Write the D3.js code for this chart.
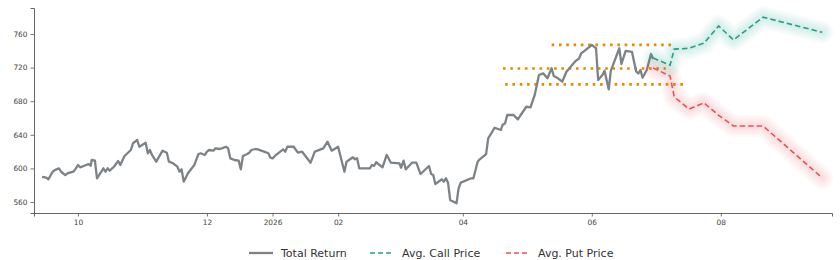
<!DOCTYPE html>
<html><head><meta charset="utf-8">
<script src="https://cdn.jsdelivr.net/npm/d3@7"></script>
<style>
body{margin:0;background:#fff;}
svg{display:block;font-family:"DejaVu Sans",sans-serif;}
</style></head><body>
<svg id="c" width="840" height="260"></svg>
<script>
const priceDates = ["2025-09-14","2025-09-16","2025-09-17","2025-09-19","2025-09-20","2025-09-22","2025-09-23","2025-09-25","2025-09-26","2025-09-29","2025-09-30","2025-10-01","2025-10-02","2025-10-04","2025-10-06","2025-10-07","2025-10-07T12:00","2025-10-09","2025-10-10","2025-10-11","2025-10-13","2025-10-14","2025-10-15","2025-10-16","2025-10-18","2025-10-20","2025-10-21","2025-10-23","2025-10-26","2025-10-27","2025-10-29","2025-10-30","2025-11-02","2025-11-03","2025-11-04","2025-11-05","2025-11-07","2025-11-10","2025-11-12","2025-11-13","2025-11-15","2025-11-17","2025-11-18","2025-11-19","2025-11-20","2025-11-22","2025-11-25","2025-11-26","2025-11-27","2025-11-28","2025-11-30","2025-12-01","2025-12-02","2025-12-04","2025-12-05","2025-12-07","2025-12-08","2025-12-10","2025-12-11","2025-12-12","2025-12-14","2025-12-16","2025-12-17","2025-12-18","2025-12-20","2025-12-21","2025-12-22","2025-12-24","2025-12-25","2025-12-28","2025-12-30","2025-12-31","2026-01-01","2026-01-03","2026-01-06","2026-01-07","2026-01-08","2026-01-11","2026-01-13","2026-01-15","2026-01-19","2026-01-21","2026-01-25","2026-01-27","2026-01-29","2026-02-01","2026-02-04","2026-02-05","2026-02-08","2026-02-09","2026-02-10","2026-02-11","2026-02-16","2026-02-17","2026-02-18","2026-02-19","2026-02-22","2026-02-24","2026-02-26","2026-03-02","2026-03-02T18:00","2026-03-04","2026-03-05","2026-03-08","2026-03-10","2026-03-12","2026-03-16","2026-03-17","2026-03-18","2026-03-19","2026-03-22","2026-03-23","2026-03-24","2026-03-25","2026-03-26","2026-03-29","2026-03-30","2026-03-31","2026-04-05","2026-04-06","2026-04-08","2026-04-09","2026-04-12","2026-04-13","2026-04-14","2026-04-16","2026-04-19","2026-04-19T18:00","2026-04-21","2026-04-22","2026-04-25","2026-04-27","2026-05-01","2026-05-03","2026-05-05","2026-05-06","2026-05-07","2026-05-09","2026-05-11","2026-05-13","2026-05-14","2026-05-16","2026-05-18","2026-05-20","2026-05-22","2026-05-24","2026-05-26","2026-05-27","2026-05-30","2026-06-01","2026-06-02","2026-06-03","2026-06-04","2026-06-06","2026-06-07","2026-06-09","2026-06-10","2026-06-11","2026-06-14","2026-06-15","2026-06-17","2026-06-20","2026-06-22","2026-06-23","2026-06-24","2026-06-25","2026-06-27","2026-06-29","2026-06-30"];
const priceValues = [590,589,587,596,598,600,596,592,594,596.5,600,604,601.3,603.2,605.2,603.2,610,609.2,588.2,592.1,600.1,596,600.1,597.3,602,608.8,604,614.8,621.9,629.9,633.8,625.8,630.6,618,621.9,616,608,621.1,618.7,608,606.1,602,596.1,598.9,584.2,594.2,604,610.8,617.1,618,616,619.9,621.9,621.1,623.9,623.1,623.9,625.8,623.9,612,610,609.2,598.9,614.8,617.1,618.7,621.9,623.1,622.7,619.9,618,612.7,612,616.8,622.7,619.9,625.8,625.8,618.7,619.9,606.8,619.9,623.9,631.8,621.1,625.8,596.1,608,613.2,610.8,612,600.1,600.1,604,602.9,607.3,601.3,616,606.8,606.1,600.8,609.2,598.9,606.8,606.8,593.3,602.9,593.3,592.1,581.4,587,584.2,588.2,583,562.4,558.4,576.3,583,588.2,588.2,608,610.8,617.1,635.8,639.8,648.4,645.7,651.7,653.7,663.6,663.6,658.4,673.4,672.7,687.4,699.3,711.2,713.2,707.3,719.2,710,707.3,703.2,715.1,721.1,727,731.1,737,743,746.9,744.9,743,705.2,711.2,716.3,694.2,716.3,723,743,724.3,739.8,738.6,715.1,713,717.1,707.9,717.1,736.2,730.2];

const forecastDates = ["2026-06-30","2026-07-08","2026-07-10","2026-07-17","2026-07-24","2026-07-31","2026-08-07","2026-08-21","2026-09-18"];
const callValues = [731.4,723,742,743,749,769.5,753,780,762];
const putValues  = [719.5,710,685,670.7,678,663.2,650.5,650.5,588.6];

const levelValues = [747,719,700];
const levelStarts = ["2026-05-13","2026-04-20","2026-04-21"];
const levelEnds   = ["2026-07-09","2026-07-06","2026-07-15"];

const xTickDates = ["2025-10-01","2025-12-01","2026-01-01","2026-02-01","2026-04-01","2026-06-01","2026-08-01"];
const xTickLabels = ["10","12","2026","02","04","06","08"];
const yTickValues = [560,600,640,680,720,760];

const seriesNames = ["Total Return","Avg. Call Price","Avg. Put Price"];
const colGray = "#7d8287", colCall = "#2a9d85", colPut = "#e5535a", colLevel = "#e68a00";

const P = d3.isoParse;
const svg = d3.select("#c");

// scales anchored on the tick positions
const x0 = d3.scaleTime().domain([P("2025-10-01"), P("2026-08-01")]).range([78, 720.8]);
const y0 = d3.scaleLinear().domain([560, 760]).range([202, 34]);
const x = x0.copy().domain([x0.invert(34), x0.invert(832)]).range([34, 832]);
const y = y0.copy().domain([y0.invert(213), y0.invert(8)]).range([213, 8]);

// axes
const axColor = "#555";
const gx = svg.append("g").attr("transform","translate(0,213)")
  .call(d3.axisBottom(x).tickValues(xTickDates.map(P)).tickSizeOuter(0).tickSize(3.5).tickPadding(3)
    .tickFormat((d,i)=>xTickLabels[i]));
const gy = svg.append("g").attr("transform","translate(34,0)")
  .call(d3.axisLeft(y).tickValues(yTickValues).tickSizeOuter(0).tickSize(3.5).tickPadding(3));
[gx,gy].forEach(g=>{
  g.select(".domain").attr("stroke",axColor).attr("stroke-width",0.9);
  g.selectAll(".tick line").attr("stroke",axColor).attr("stroke-width",0.8);
  g.selectAll(".tick text").attr("fill","#444").attr("font-size","7.4px").attr("font-family","DejaVu Sans");
});

const line = d3.line().x(d=>x(d[0])).y(d=>y(d[1]));

// level lines
levelValues.forEach((v,i)=>{
  svg.append("path")
    .attr("d", line([[P(levelStarts[i]),v],[P(levelEnds[i]),v]]))
    .attr("stroke",colLevel).attr("stroke-width",2.6).attr("fill","none")
    .attr("stroke-dasharray","2.6,4.7");
});

// price line
const priceData = priceDates.map((d,i)=>[P(d), priceValues[i]]);
svg.append("path").attr("d", line(priceData))
  .attr("fill","none").attr("stroke",colGray).attr("stroke-width",2.3)
  .attr("stroke-linejoin","round");

// forecast lines with glow
function glowLine(vals, color){
  const data = forecastDates.map((d,i)=>[P(d), vals[i]]);
  [22,18,14,10,6].forEach(w=>{
    svg.append("path").attr("d", line(data)).attr("fill","none")
      .attr("stroke",color).attr("stroke-opacity",0.035).attr("stroke-width",w)
      .attr("stroke-linejoin","round").attr("stroke-linecap","round");
  });
  svg.append("path").attr("d", line(data)).attr("fill","none")
    .attr("stroke",color).attr("stroke-width",1.6).attr("stroke-dasharray","5.5,3");
}
glowLine(callValues, colCall);
glowLine(putValues, colPut);

// legend
const leg = svg.append("g").attr("font-family","DejaVu Sans").attr("font-size","11px");
const legItems = [
  {x:249, color:colGray, dash:null, w:2.3},
  {x:370, color:colCall, dash:"5,3", w:1.6},
  {x:506, color:colPut, dash:"5,3", w:1.6}
];
legItems.forEach((it,i)=>{
  leg.append("line").attr("x1",it.x).attr("x2",it.x+24).attr("y1",253).attr("y2",253)
    .attr("stroke",it.color).attr("stroke-width",it.w).attr("stroke-dasharray",it.dash);
  leg.append("text").attr("x",it.x+32).attr("y",253).attr("dy","0.35em")
    .attr("fill","#333").text(seriesNames[i]);
});
</script></body></html>
